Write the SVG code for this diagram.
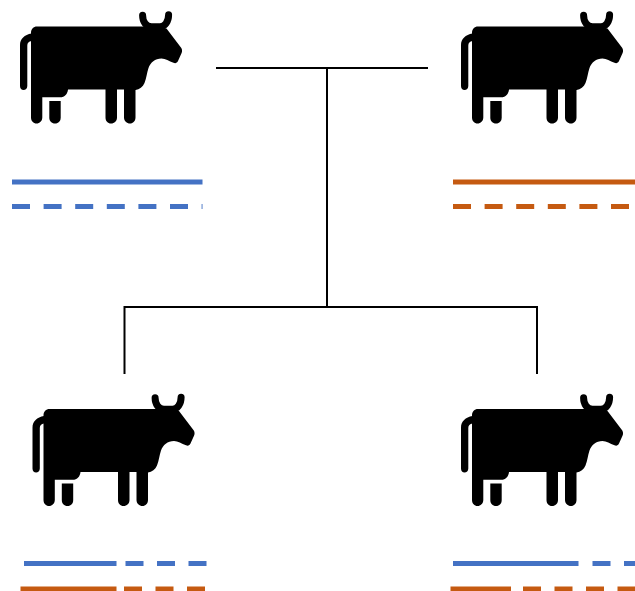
<svg xmlns="http://www.w3.org/2000/svg" width="635" height="591" viewBox="0 0 635 591">
<style>
.conn{stroke:#000;stroke-width:2;fill:none}
.blue{stroke:#4472C4;stroke-width:4.800;fill:none}
.orange{stroke:#C55A11;stroke-width:4.800;fill:none}
.dash{stroke-dasharray:18 13.6}
</style>
<defs>
<g id="cow" fill="#000">
<path d="M37 26.500H145L166.500 28.500L181.300 48C182.300 49.800 182.300 51.500 181.500 53.300L178 61C177 63 175.500 63.600 173.500 62.800C169 61 165.500 58.800 161.500 58.500C155 58.500 150.500 62.500 148.500 68C146.800 73 146.500 78 144.500 83C142.800 87 139.500 89.500 135.500 90V117.500C135.500 121 133 123.500 130 123.500C126.800 123.500 124 121 124 117.500V89.500H117V117.500C117 121 114.500 123.500 111 123.500C107.800 123.500 105.500 121 105.500 117.500V89.500H68C67.500 94 65 97.300 60 97.300H42.300V117.500C42.300 121 39.500 123.500 36.600 123.500C33.500 123.500 31 121 31 117.500V33C31 29 33.500 26.500 37 26.500Z"/>
<path d="M142.600 15.200C142.600 21.500 146 26.800 151.500 26.800H160C165 26.800 168.600 21.500 168.600 14.800" fill="none" stroke="#000" stroke-width="7" stroke-linecap="round"/>
<path d="M49.300 101H60.700V117.500C60.700 121 58.500 123.500 55 123.500C51.500 123.500 49.300 121 49.300 117.500Z"/>
<path d="M31.500 33.500V41C28.800 41.500 27.300 43 27.300 45.500V86C27.300 88.500 25.500 90 23.600 90C21.500 90 20 88.500 20 86V45C20 39 24.500 34.500 31.500 33.500Z"/>
</g>
</defs>
<g id="connectors">
<path class="conn" d="M216 68H428"/>
<path class="conn" d="M327 68V307"/>
<path class="conn" d="M124.500 374V307H537V374"/>
</g>
<g id="parent-left">
<use href="#cow"/>
<path class="blue" d="M12 182H202.500"/>
<path class="blue dash" d="M12 206.500H202.500"/>
</g>
<g id="parent-right">
<use href="#cow" x="441"/>
<path class="orange" d="M453 182H635"/>
<path class="orange dash" d="M453 206.500H629"/>
</g>
<g id="child-left">
<use href="#cow" x="12.500" y="382.500"/>
<path class="blue" d="M24 563.500H116.500"/>
<path class="blue" d="M125.500 563.500H143.500M157 563.500H175M188.500 563.500H206.500"/>
<path class="orange" d="M20.500 589H116.500"/>
<path class="orange" d="M124 589H142M155.500 589H173.500M187 589H205"/>
</g>
<g id="child-right">
<use href="#cow" x="441" y="382.500"/>
<path class="blue" d="M453 563.500H578.500"/>
<path class="blue" d="M592.500 563.500H610.500M624 563.500H635"/>
<path class="orange" d="M450.500 589H511"/>
<path class="orange" d="M523 589H541M554.500 589H572.500M586 589H604M617.500 589H635"/>
</g>
</svg>
